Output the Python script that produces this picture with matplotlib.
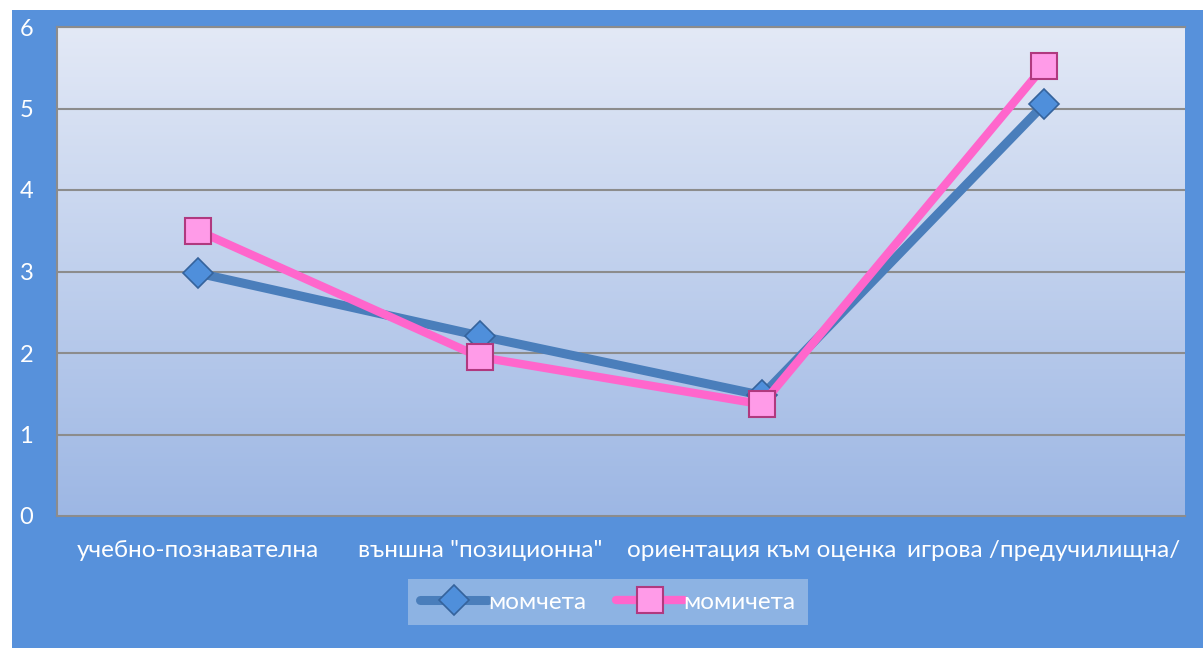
import numpy as np
import matplotlib.pyplot as plt
from matplotlib.patches import Rectangle
from matplotlib.colors import LinearSegmentedColormap

categories = ["учебно-познавателна", "външна \"позиционна\"", "ориентация към оценка", "игрова /предучилищна/"]
boys = [2.98, 2.21, 1.48, 5.05]
girls = [3.50, 1.95, 1.37, 5.52]
boys_label = "момчета"
girls_label = "момичета"

plt.rcParams['font.family'] = ['Lato', 'DejaVu Sans']

fig = plt.figure(figsize=(12.03, 6.5), dpi=100)
fig.patch.set_facecolor("white")
W, H = 1203, 650

# blue chart panel
fig.patches.append(Rectangle((12 / W, 2 / H), 1 - 12 / W, 1 - 12 / H, transform=fig.transFigure,
                             facecolor="#5791DB", edgecolor="none", zorder=-5))

ax = fig.add_axes([57 / W, 1 - 516 / H, 1128 / W, (516 - 27) / H])
ax.set_facecolor("none")

x = np.arange(len(categories))
ax.set_xlim(-0.5, len(categories) - 0.5)
ax.set_ylim(0, 6)

# gradient background
grad = np.linspace(0, 1, 256).reshape(-1, 1)
cmap = LinearSegmentedColormap.from_list("bg", ["#9DB7E4", "#E3E9F6"])
ax.imshow(grad, aspect="auto", cmap=cmap, origin="lower",
          extent=(-0.5, len(categories) - 0.5, 0, 6), zorder=0)

for yv in range(1, 7):
    ax.axhline(yv, color="#8C8C8C", linewidth=1.5, zorder=1)

ax.plot(x, boys, color="#4A7EBB", linewidth=6.5, marker="D", markersize=15,
        markerfacecolor="#4F8FDB", markeredgecolor="#35639C", markeredgewidth=1.2,
        label=boys_label, zorder=3, solid_capstyle="round")
ax.plot(x, girls, color="#FF66CC", linewidth=6, marker="s", markersize=19,
        markerfacecolor="#FF9BE8", markeredgecolor="#B0397F", markeredgewidth=1.5,
        label=girls_label, zorder=4, solid_capstyle="round")

for side in ["left", "bottom", "top"]:
    ax.spines[side].set_color("#8C8C8C")
    ax.spines[side].set_linewidth(1.5)
ax.spines["right"].set_visible(False)

ax.set_xticks(x)
ax.set_xticklabels(categories, color="white", fontsize=17.5)
ax.set_yticks(range(0, 7))
ax.set_yticklabels([str(v) for v in range(0, 7)], color="white", fontsize=17)
ax.tick_params(axis="both", length=0)
ax.tick_params(axis="x", pad=17)
ax.tick_params(axis="y", pad=27)
for lbl in ax.get_yticklabels():
    lbl.set_horizontalalignment("left")

leg = fig.legend(loc="center", bbox_to_anchor=(608 / W, 1 - 602 / H), ncol=2,
                 frameon=True, fancybox=False, fontsize=17.5, handlelength=2.8,
                 columnspacing=1.2, handletextpad=0.0, borderpad=0.5, borderaxespad=0)
leg.get_frame().set_facecolor("#8DB3E3")
leg.get_frame().set_edgecolor("none")
leg.get_frame().set_alpha(1)
for t in leg.get_texts():
    t.set_color("white")

fig.savefig("out.png", dpi=100)
